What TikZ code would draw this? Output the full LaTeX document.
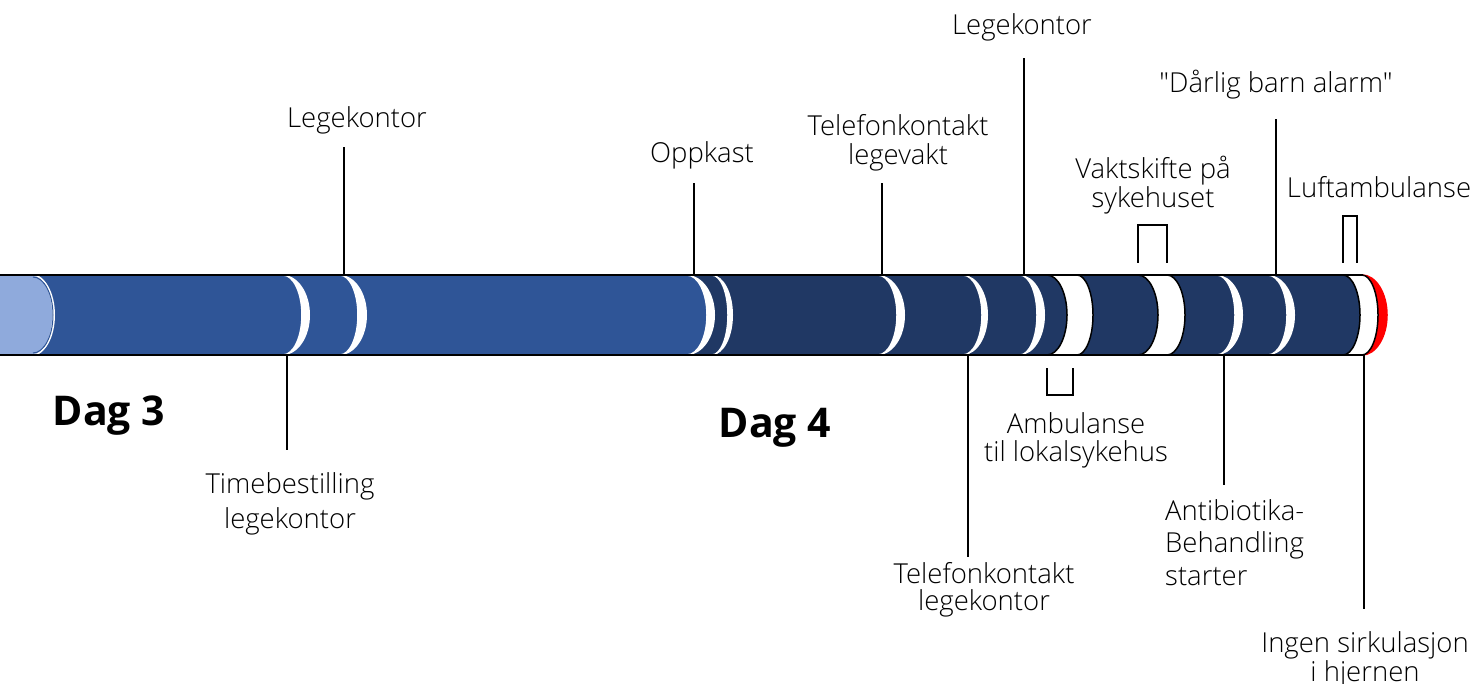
\documentclass[tikz,border=0pt]{standalone}
\usepackage{fontspec}
\setmainfont{Open Sans}[UprightFont=* Light, BoldFont=* Bold]
\definecolor{darkbar}{HTML}{203864}
\definecolor{midbar}{HTML}{2F5597}
\definecolor{lightbar}{HTML}{8FAADC}
\definecolor{endred}{HTML}{FF0000}
\tikzset{
  tick/.style={black,line width=1.8pt},
  lbl/.style={inner sep=0pt,font=\fontsize{27.5}{29}\selectfont},
  daylbl/.style={inner sep=0pt,font=\fontsize{41}{44}\selectfont\bfseries}
}
\begin{document}
\begin{tikzpicture}[x=1pt,y=-1pt]
	\useasboundingbox (0,0) rectangle (1474,684);
	% bar segments, longest first: top corner / inner bulge / outer bulge / fill / rim
	\foreach \xt/\ri/\ro/\col/\rim in {1362/25/25/endred/endred, 1362/16/16/white/black,
		1343/17/17/darkbar/black, 1268/19/27/darkbar/white, 1217/18/26/darkbar/white,
		1167/18/18/white/black, 1138/20/20/darkbar/black, 1077/16/16/white/black,
		1047/20/20/darkbar/black, 1020/17/25/darkbar/white, 963/19/25/darkbar/white,
		878/19/27/darkbar/white, 712/16/21/darkbar/white, 687/20/28/midbar/white,
		340/18/27/midbar/white, 283/19/27/midbar/white, 33/20/22/lightbar/white}
	{
		\fill[\rim] (0,275) -- (\xt,275) .. controls +(0.552*\ro,0) and +(0,-22) .. (\xt+\ro,315)
			.. controls +(0,22) and +(0.552*\ro,0) .. (\xt,355) -- (0,355) -- cycle;
		\fill[\col] (0,275) -- (\xt,275) .. controls +(0.552*\ri,0) and +(0,-22) .. (\xt+\ri,315)
			.. controls +(0,22) and +(0.552*\ri,0) .. (\xt,355) -- (0,355) -- cycle;
		\draw[\rim,line width=1.5pt] (\xt,275) .. controls +(0.552*\ri,0) and +(0,-22) .. (\xt+\ri,315)
			.. controls +(0,22) and +(0.552*\ri,0) .. (\xt,355);
	}
	\draw[midbar,line width=1pt] (33,277) .. controls +(11,0) and +(0,-21) .. (53,315)
		.. controls +(0,21) and +(11,0) .. (33,353);
	\draw[black,line width=1.5pt] (0,275) -- (1363,275);
	\draw[black,line width=1.5pt] (0,355) -- (1363,355);

	% labels
	\node[lbl,anchor=base] (leg1) at (357,128) {Legekontor};
	\node[lbl,anchor=base] (opp) at (702,163) {Oppkast};
	\node[lbl,anchor=north,align=center] (tlv) at (898,114) {Telefonkontakt\\legevakt};
	\node[lbl,anchor=base] (leg2) at (1022,35) {Legekontor};
	\node[lbl,anchor=north,align=center] (vak) at (1153,156) {Vaktskifte på\\sykehuset};
	\node[lbl,anchor=base] (dbr) at (1276,93) {\addfontfeatures{Ligatures=TeXOff}"Dårlig barn alarm"};
	\node[lbl,anchor=base] (luf) at (1379,198) {Luftambulanse};
	\node[daylbl,anchor=base] (dag3) at (109,425) {Dag 3};
	\node[daylbl,anchor=base] (dag4) at (775,437) {Dag 4};
	\node[lbl,anchor=north,align=center,font=\fontsize{27.5}{35}\selectfont] (tim) at (290,472) {Timebestilling\\legekontor};
	\node[lbl,anchor=north,align=center,font=\fontsize{27.5}{28}\selectfont] (amb) at (1076,412) {Ambulanse\\til lokalsykehus};
	\node[lbl,anchor=north,align=center,font=\fontsize{27.5}{27}\selectfont] (tlk) at (984,562) {Telefonkontakt\\legekontor};
	\node[lbl,anchor=north west,align=left,font=\fontsize{27.5}{32.5}\selectfont] (ant) at (1165,499) {Antibiotika-\\Behandling\\starter};
	\node[lbl,anchor=north,align=center,font=\fontsize{27.5}{29}\selectfont] (ing) at (1365,631) {Ingen sirkulasjon\\i hjernen};

	% ticks above the bar
	\coordinate (leg1a) at (344,275); \coordinate (leg1b) at (344,147);
	\coordinate (oppa) at (694,275); \coordinate (oppb) at (694,183);
	\coordinate (tlva) at (882,275); \coordinate (tlvb) at (882,183);
	\coordinate (leg2a) at (1024,275); \coordinate (leg2b) at (1024,58);
	\coordinate (dbra) at (1276,275); \coordinate (dbrb) at (1276,119);
	\draw[tick] (leg1a) -- (leg1b);
	\draw[tick] (oppa) -- (oppb);
	\draw[tick] (tlva) -- (tlvb);
	\draw[tick] (leg2a) -- (leg2b);
	\draw[tick] (dbra) -- (dbrb);
	% ticks below the bar
	\coordinate (tima) at (287,355); \coordinate (timb) at (287,450);
	\coordinate (tlka) at (968,355); \coordinate (tlkb) at (968,557);
	\coordinate (anta) at (1224,355); \coordinate (antb) at (1224,485);
	\coordinate (inga) at (1364,355); \coordinate (ingb) at (1364,609);
	\draw[tick] (tima) -- (timb);
	\draw[tick] (tlka) -- (tlkb);
	\draw[tick] (anta) -- (antb);
	\draw[tick] (inga) -- (ingb);
	% brackets
	\coordinate (vakl) at (1138,263); \coordinate (vakr) at (1167,263);
	\coordinate (lufl) at (1343,263); \coordinate (lufr) at (1357,263);
	\coordinate (ambl) at (1047,368); \coordinate (ambr) at (1073,368);
	\draw[tick] (vakl) -- ++(0,-38) -| (vakr);
	\draw[tick] (lufl) -- ++(0,-47) -| (lufr);
	\draw[tick] (ambl) -- ++(0,27) -| (ambr);
\end{tikzpicture}
\end{document}
